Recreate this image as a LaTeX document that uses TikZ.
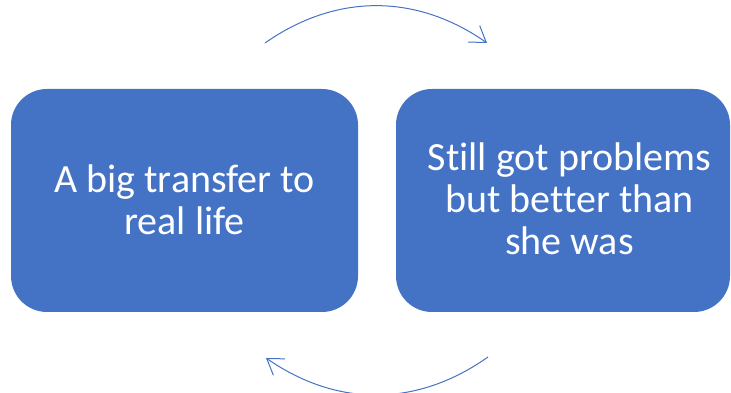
\documentclass[tikz,border=0pt]{standalone}
\usepackage{fontspec}
\setmainfont[Ligatures={NoCommon}]{Carlito}
\usetikzlibrary{arrows.meta}
\definecolor{boxblue}{HTML}{4472C4}
\tikzset{
  card/.style={fill=boxblue, draw=none, rounded corners=36pt, inner sep=0pt},
  cardtext/.style={text=white, align=center, font=\fontsize{40}{42}\selectfont, inner sep=0pt},
  cyc/.style={draw=boxblue, line width=1pt,
    -{Straight Barb[length=15pt,width=20pt,line width=1pt]}}
}
\begin{document}
\begin{tikzpicture}[x=1pt,y=1pt]
\useasboundingbox (0,0) rectangle (731,393);
\node[card, minimum width=347pt, minimum height=223pt] (left) at (184.5,192.5) {};
\node[cardtext] (lefttext) at (184.5,193) {A big transfer to\\real life};
\node[card, minimum width=334pt, minimum height=223pt] (right) at (563,192.5) {};
\node[cardtext] (righttext) at (569.5,194) {Still got problems\\but better than\\she was};
\coordinate (t1) at (265,350);
\coordinate (t2) at (487,350);
\coordinate (b1) at (488,36);
\coordinate (b2) at (266,35);
\draw[cyc] (t1) to[bend left=35] (t2);
\draw[cyc] (b1) to[bend left=35] (b2);
\end{tikzpicture}
\end{document}
